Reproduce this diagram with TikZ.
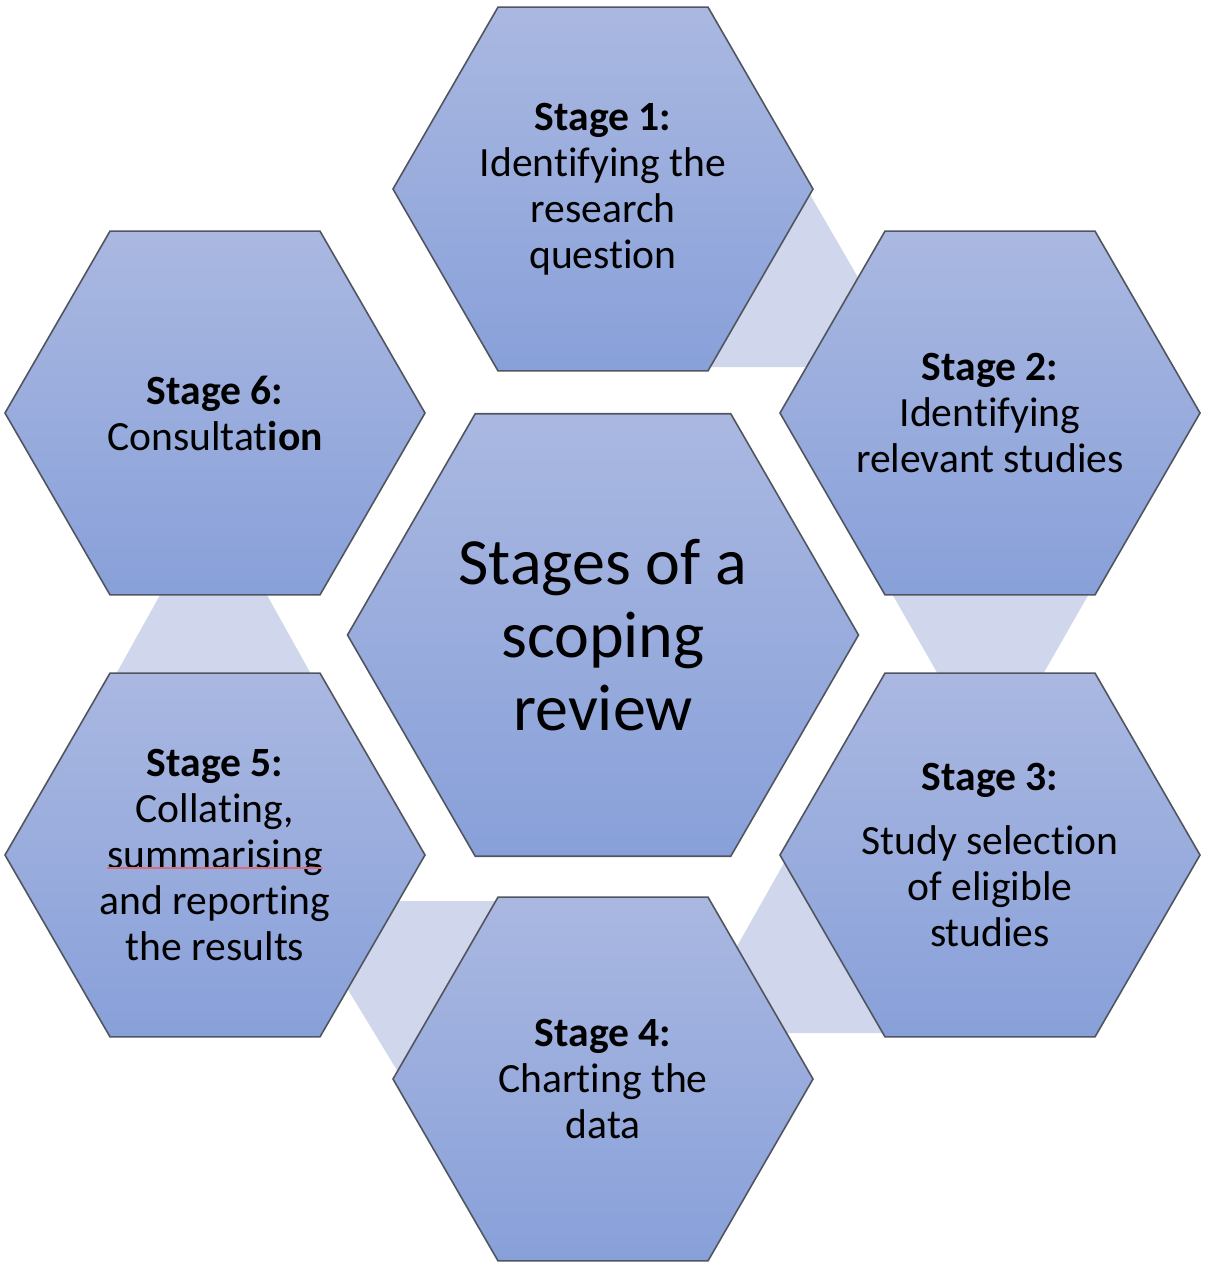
\documentclass[tikz,border=0pt]{standalone}
\usepackage{fontspec}
\setmainfont{Carlito}[Ligatures={NoCommon}]
\usetikzlibrary{shapes.geometric}
\definecolor{hextop}{RGB}{170,184,225}
\definecolor{hexbot}{RGB}{136,160,217}
\definecolor{hexline}{RGB}{80,85,95}
\definecolor{linkfill}{RGB}{208,214,235}
\definecolor{spellred}{RGB}{214,110,130}
\begin{document}
\begin{tikzpicture}[x=0.5pt,y=-0.5pt,
  hexa/.style={regular polygon, regular polygon sides=6, minimum size=#1,
    inner sep=0pt, outer sep=0pt, draw=hexline, line width=0.8pt,
    top color=hextop, bottom color=hexbot},
  stagetext/.style={align=center, text=black, inner sep=0pt,
    font={\fontsize{20.8pt}{23pt}\selectfont}},
  centertext/.style={align=center, text=black, inner sep=0pt,
    font={\fontsize{33pt}{36.5pt}\selectfont}},
  link/.style={fill=linkfill, draw=none}]
\useasboundingbox (0,0) rectangle (1207,1264);
% light links between neighbouring stages
\fill[link] (790,160) -- (900,350) -- (900,367) -- (700,367) -- cycle;
\fill[link] (887,585) -- (1094,585) -- (1038,683) -- (943,683) -- cycle;
\fill[link] (797,840) -- (718,980) -- (760,1033) -- (900,1033) -- (900,860) -- cycle;
\fill[link] (380,901) -- (520,901) -- (450,1100) -- (415,1100) -- (330,960) -- cycle;
\fill[link] (165.6,585) -- (261.4,585) -- (316,683) -- (111,683) -- cycle;
% hexagons
\node[hexa=255.5pt] (c) at (603,635) {};
\node[hexa=210pt] (s1) at (603,189) {};
\node[hexa=210pt] (s2) at (990,413) {};
\node[hexa=210pt] (s3) at (990,855) {};
\node[hexa=210pt] (s4) at (603,1079) {};
\node[hexa=210pt] (s5) at (215,855) {};
\node[hexa=210pt] (s6) at (215,413) {};
% texts
\node[centertext] (ct) at (c.center) {Stages of a\\scoping\\review};
\node[stagetext] (t1) at (s1.center) {\textbf{Stage 1:}\\Identifying the\\research\\question};
\node[stagetext] (t2) at (s2.center) {\textbf{Stage 2:}\\Identifying\\relevant studies};
\node[stagetext] (t3) at (s3.center) {\textbf{Stage 3:}\\[9pt]Study selection\\of eligible\\studies};
\node[stagetext] (t4) at (s4.center) {\textbf{Stage 4:}\\Charting the\\data};
\node[stagetext] (t5) at (s5.center) {\textbf{Stage 5:}\\Collating,\\summarising\\and reporting\\the results};
\node[stagetext] (t6) at (s6.center) {\textbf{Stage 6:}\\Consultat\textbf{ion}};
% spell-check underline
\coordinate (u1) at (107,868);
\coordinate (u2) at (323,868);
\draw[spellred, line width=0.7pt] (u1) -- (u2);
\end{tikzpicture}
\end{document}
